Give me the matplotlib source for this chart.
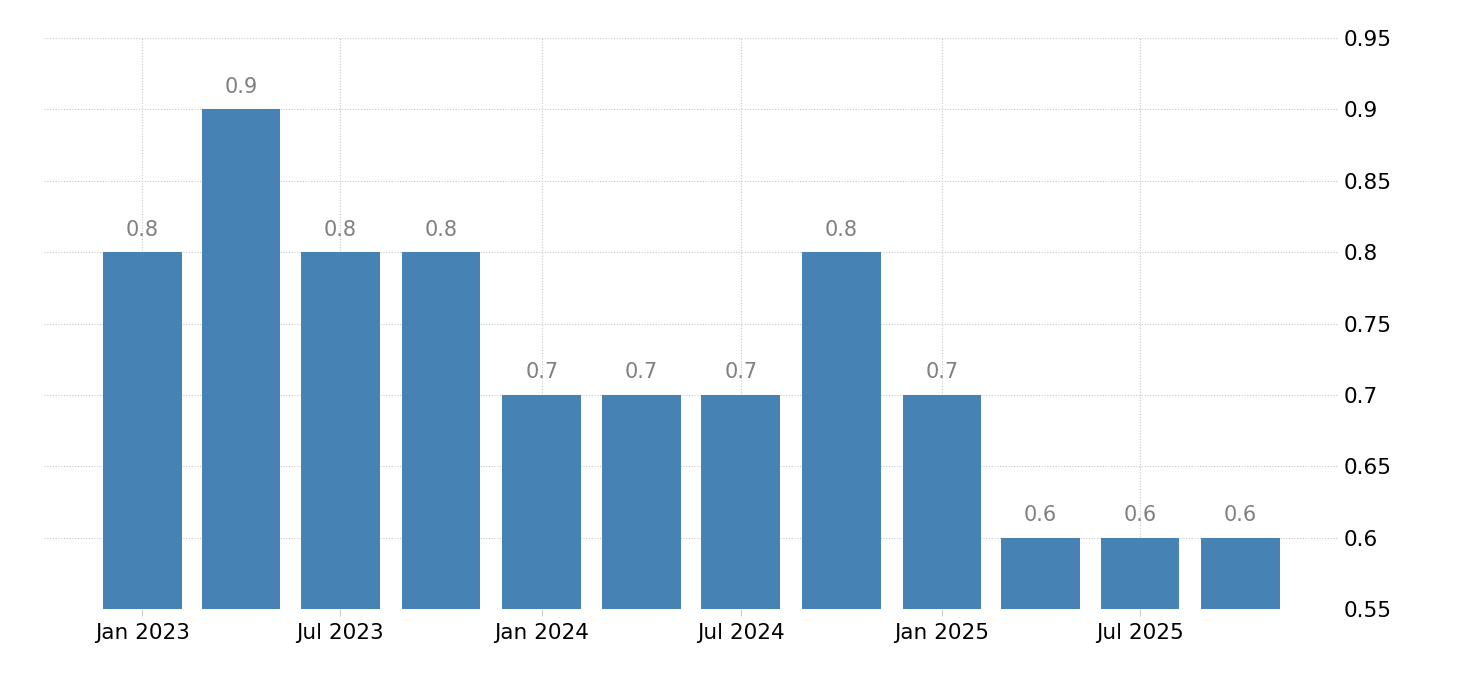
import matplotlib
matplotlib.use("Agg")
import matplotlib.pyplot as plt
import matplotlib.dates as mdates
from datetime import datetime, timedelta

# quarterly values
dates = ["2023-01-01", "2023-04-01", "2023-07-01", "2023-10-01",
         "2024-01-01", "2024-04-01", "2024-07-01", "2024-10-01",
         "2025-01-01", "2025-04-01", "2025-07-01", "2025-10-01"]
values = [0.8, 0.9, 0.8, 0.8, 0.7, 0.7, 0.7, 0.8, 0.7, 0.6, 0.6, 0.6]
yticks = [0.55, 0.6, 0.65, 0.7, 0.75, 0.8, 0.85, 0.9, 0.95]
ytick_labels = ["0.55", "0.6", "0.65", "0.7", "0.75", "0.8", "0.85", "0.9", "0.95"]
xtick_dates = ["2023-01-01", "2023-07-01", "2024-01-01", "2024-07-01", "2025-01-01", "2025-07-01"]
xtick_labels = ["Jan 2023", "Jul 2023", "Jan 2024", "Jul 2024", "Jan 2025", "Jul 2025"]

x = [datetime.strptime(d, "%Y-%m-%d") for d in dates]
xt = [datetime.strptime(d, "%Y-%m-%d") for d in xtick_dates]

plt.rcParams["font.family"] = ["DejaVu Sans"]
fig = plt.figure(figsize=(14.6, 6.8), dpi=100)
ax = fig.add_axes([44 / 1460, 1 - 609 / 680, (1338 - 44) / 1460, (609 - 38) / 680])

bar_color = "#4682b4"
ax.bar(x, values, width=72, color=bar_color, zorder=2)

# value labels over bars
for xi, v in zip(x, values):
    ax.annotate(f"{v:g}", (mdates.date2num(xi), v), xytext=(0, 9),
                textcoords="offset points", ha="center", va="bottom",
                fontsize=15, color="#808080")

ax.set_ylim(0.55, 0.95)
ax.set_xlim(x[0] - timedelta(days=90), x[-1] + timedelta(days=89))
ax.yaxis.tick_right()
ax.set_yticks(yticks)
ax.set_yticklabels(ytick_labels)
ax.set_xticks(xt)
ax.set_xticklabels(xtick_labels)

ax.grid(True, color="#c8c8c8", linestyle=(0, (1, 1.5)), linewidth=0.8, zorder=0)
for s in ax.spines.values():
    s.set_visible(False)
ax.tick_params(axis="y", length=0, pad=4, labelsize=15.5, labelcolor="black")
ax.tick_params(axis="x", length=5, color="#cccccc", pad=5, labelsize=15.5, labelcolor="black")

fig.savefig("out.png", dpi=100)
